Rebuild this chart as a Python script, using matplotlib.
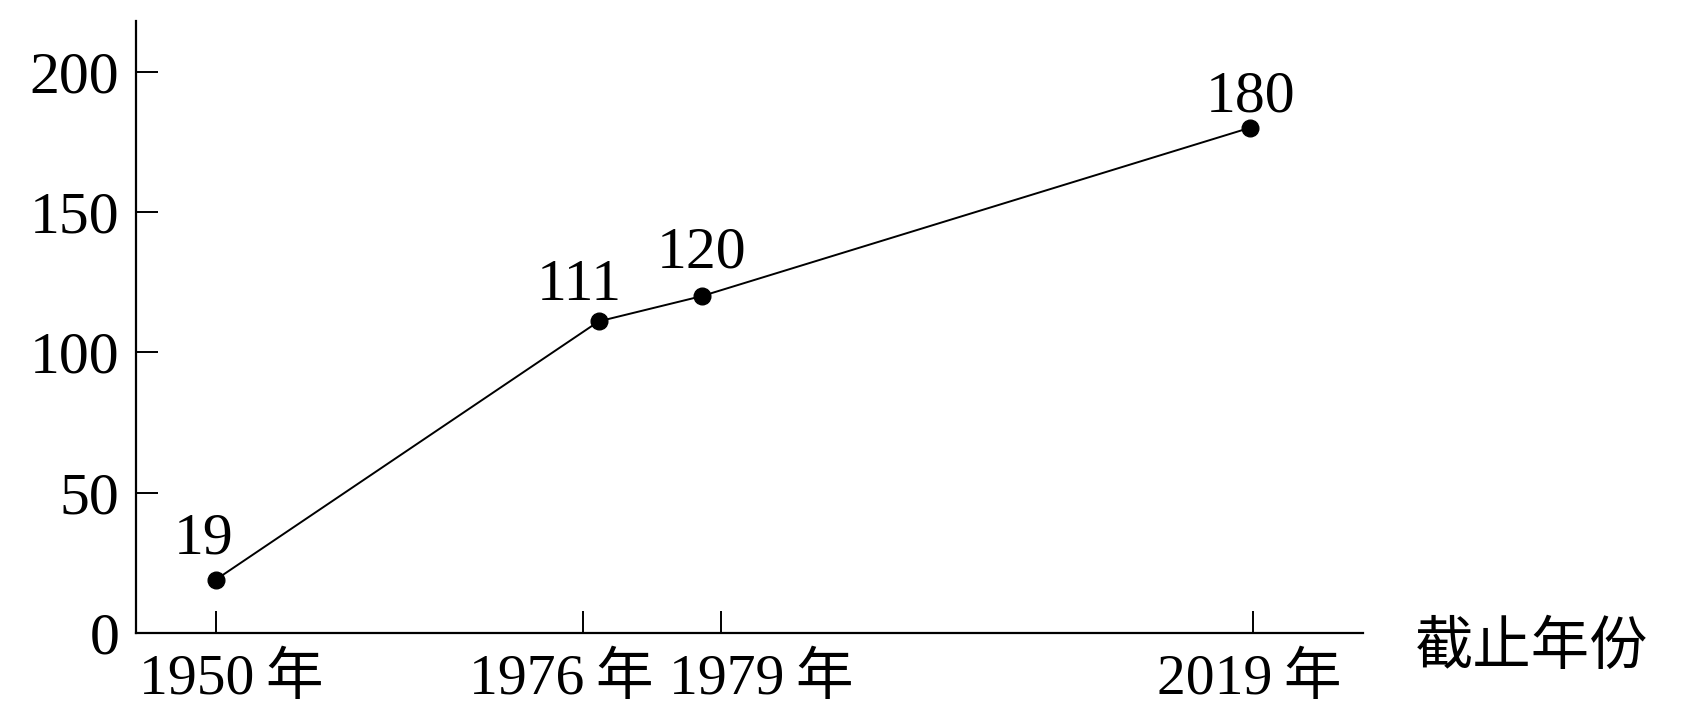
import matplotlib
matplotlib.use('Agg')
import matplotlib.pyplot as plt
from matplotlib.transforms import ScaledTranslation

# data
years = ['1950\u2009年', '1976\u2009年', '1979\u2009年', '2019\u2009年']
values = [19, 111, 120, 180]
value_labels = ['19', '111', '120', '180']
# horizontal placement along the axis (0-100 units), drawn unevenly in the original
tick_pos = [6.5, 36.4, 47.7, 91.0]
point_pos = [6.5, 37.7, 46.1, 90.8]
y_ticks = [0, 50, 100, 150, 200]

fonts = ['Liberation Serif', 'Noto Sans CJK SC']
plt.rcParams['font.family'] = fonts

fig = plt.figure(figsize=(16.82, 7.25), dpi=100)
ax = fig.add_axes([0.0809, 0.1269, 0.7295, 0.8441])

ax.plot(point_pos, values, color='black', linewidth=1.4, marker='o',
        markersize=12, markerfacecolor='black', markeredgecolor='black')

# value labels above the points
offsets = [(-12, 40), (-19, 35), (0, 43), (0, 30)]
for x, y, txt, off in zip(point_pos, values, value_labels, offsets):
    ax.annotate(txt, (x, y), xytext=off, textcoords='offset pixels',
                ha='center', va='center', fontsize=43)

ax.set_xlim(0, 100)
ax.set_ylim(0, 218)
ax.set_xticks(tick_pos)
ax.set_xticklabels(years)
ax.set_yticks(y_ticks)

for side in ['top', 'right']:
    ax.spines[side].set_visible(False)
for side in ['left', 'bottom']:
    ax.spines[side].set_linewidth(1.6)

ax.tick_params(axis='both', direction='in', length=16, width=1.4)
ax.tick_params(axis='y', pad=12, labelsize=43)
ax.tick_params(axis='x', pad=14, labelsize=41.5)

# the year labels are nudged sideways in the original so they don't collide
shifts = [15, -21, 40, -3]
for lab, dx in zip(ax.get_xticklabels(), shifts):
    lab.set_transform(lab.get_transform() + ScaledTranslation(dx / 100, 0, fig.dpi_scale_trans))

ax.annotate('截止年份', (1.0, 0), xycoords='axes fraction', xytext=(52, -16),
            textcoords='offset pixels', ha='left', va='center', fontsize=42)

fig.savefig('out.png', dpi=100)
